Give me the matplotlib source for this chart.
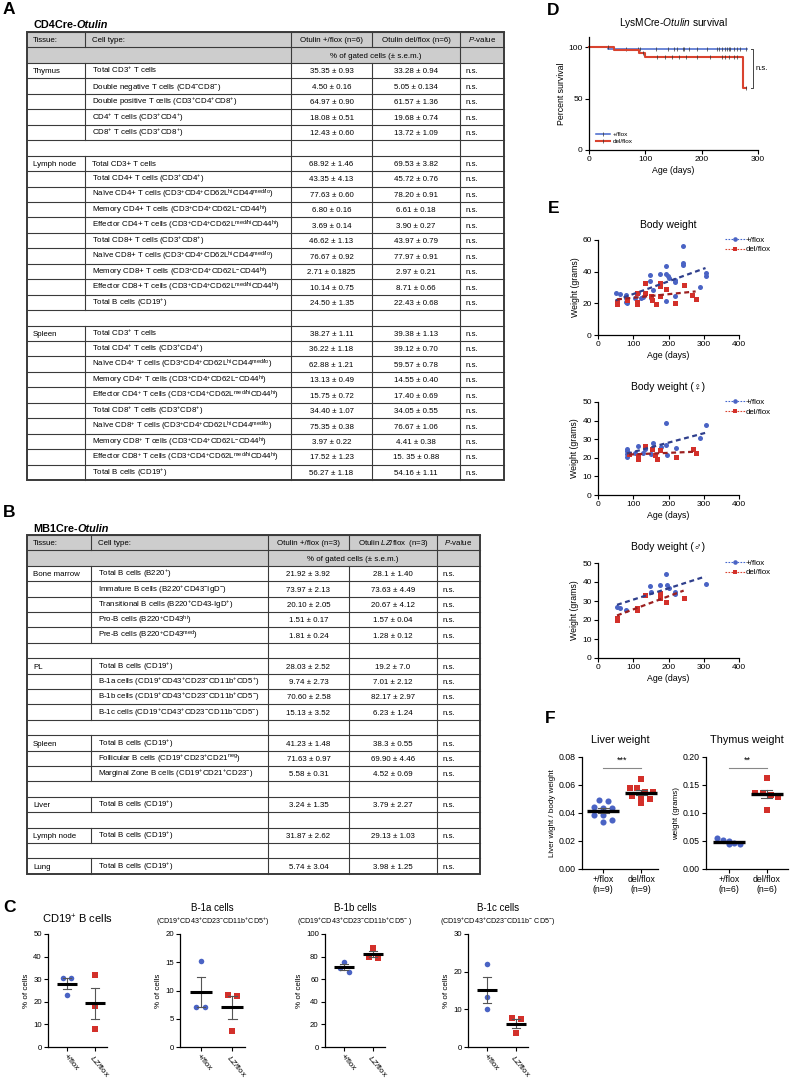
import re
import numpy as np
import matplotlib
matplotlib.use("Agg")
import matplotlib.pyplot as plt
from matplotlib.lines import Line2D
from matplotlib.patches import Rectangle

plt.rcParams['font.family'] = ['Liberation Sans', 'DejaVu Sans']
plt.rcParams['mathtext.fontset'] = 'custom'
plt.rcParams['mathtext.rm'] = 'Liberation Sans'
plt.rcParams['mathtext.it'] = 'Liberation Sans:italic'
plt.rcParams['mathtext.bf'] = 'Liberation Sans:bold'
plt.rcParams['axes.linewidth'] = 0.9

# ------------------------------------------------------------------ data A
A_header = ["Tissue:", "Cell type:", "Otulin +/flox (n=6)", "Otulin del/flox (n=6)", "$P$-value"]
A_subheader = "% of gated cells (± s.e.m.)"
A_tissues = ["Thymus", "Lymph node", "Spleen"]
A_thymus_cells = ["Total CD3{+} T cells",
                  "Double negative T cells (CD4{-}CD8{-})",
                  "Double positive T cells (CD3{+}CD4{+}CD8{+})",
                  "CD4{+} T cells (CD3{+}CD4{+})",
                  "CD8{+} T cells (CD3{+}CD8{+})"]
A_thymus_ctrl = ["35.35 ± 0.93", "4.50 ± 0.16", "64.97 ± 0.90", "18.08 ± 0.51", "12.43 ± 0.60"]
A_thymus_ko = ["33.28 ± 0.94", "5.05 ± 0.134", "61.57 ± 1.36", "19.68 ± 0.74", "13.72 ± 1.09"]
A_ln_cells = ["Total CD3+ T cells",
              "Total CD4+ T cells (CD3{+}CD4{+})",
              "Naïve CD4+ T cells (CD3{+}CD4{+}CD62L{hi}CD44{med/lo})",
              "Memory CD4+ T cells (CD3{+}CD4{+}CD62L{-}CD44{hi})",
              "Effector CD4+ T cells (CD3{+}CD4{+}CD62L{med/hi}CD44{hi})",
              "Total CD8+ T cells (CD3{+}CD8{+})",
              "Naïve CD8+ T cells (CD3{+}CD4{+}CD62L{hi}CD44{med/lo})",
              "Memory CD8+ T cells (CD3{+}CD4{+}CD62L{-}CD44{hi})",
              "Effector CD8+ T cells (CD3{+}CD4{+}CD62L{med/hi}CD44{hi})",
              "Total B cells (CD19{+})"]
A_ln_ctrl = ["68.92 ± 1.46", "43.35 ± 4.13", "77.63 ± 0.60", "6.80 ± 0.16", "3.69 ± 0.14",
             "46.62 ± 1.13", "76.67 ± 0.92", "2.71 ± 0.1825", "10.14 ± 0.75", "24.50 ± 1.35"]
A_ln_ko = ["69.53 ± 3.82", "45.72 ± 0.76", "78.20 ± 0.91", "6.61 ± 0.18", "3.90 ± 0.27",
           "43.97 ± 0.79", "77.97 ± 0.91", "2.97 ± 0.21", "8.71 ± 0.66", "22.43 ± 0.68"]
A_spleen_cells = ["Total CD3{+} T cells",
                  "Total CD4{+} T cells (CD3{+}CD4{+})",
                  "Naïve CD4{+} T cells (CD3{+}CD4{+}CD62L{hi}CD44{med/lo})",
                  "Memory CD4{+} T cells (CD3{+}CD4{+}CD62L{-}CD44{hi})",
                  "Effector CD4{+} T cells (CD3{+}CD4{+}CD62L{med/hi}CD44{hi})",
                  "Total CD8{+} T cells (CD3{+}CD8{+})",
                  "Naïve CD8{+} T cells (CD3{+}CD4{+}CD62L{hi}CD44{med/lo})",
                  "Memory CD8{+} T cells (CD3{+}CD4{+}CD62L{-}CD44{hi})",
                  "Effector CD8{+} T cells (CD3{+}CD4{+}CD62L{med/hi}CD44{hi})",
                  "Total B cells (CD19{+})"]
A_spleen_ctrl = ["38.27 ± 1.11", "36.22 ± 1.18", "62.88 ± 1.21", "13.13 ± 0.49", "15.75 ± 0.72",
                 "34.40 ± 1.07", "75.35 ± 0.38", "3.97 ± 0.22", "17.52 ± 1.23", "56.27 ± 1.18"]
A_spleen_ko = ["39.38 ± 1.13", "39.12 ± 0.70", "59.57 ± 0.78", "14.55 ± 0.40", "17.40 ± 0.69",
               "34.05 ± 0.55", "76.67 ± 1.06", "4.41 ± 0.38", "15. 35 ± 0.88", "54.16 ± 1.11"]

# ------------------------------------------------------------------ data B
B_header = ["Tissue:", "Cell type:", "Otulin +/flox (n=3)", "Otulin $LZ$/flox  (n=3)", "$P$-value"]
B_subheader = "% of gated cells (± s.e.m.)"
B_tissues = ["Bone marrow", "PL", "Spleen", "Liver", "Lymph node", "Lung"]
B_bm_cells = ["Total B cells (B220{+})", "Immature B cells (B220{+}CD43{-}IgD{-})",
              "Transitional B cells (B220{+}CD43-IgD{+})", "Pro-B cells (B220{+}CD43{hi})",
              "Pre-B cells (B220{+}CD43{med})"]
B_bm_ctrl = ["21.92 ± 3.92", "73.97 ± 2.13", "20.10 ± 2.05", "1.51 ± 0.17", "1.81 ± 0.24"]
B_bm_ko = ["28.1 ± 1.40", "73.63 ± 4.49", "20.67 ± 4.12", "1.57 ± 0.04", "1.28 ± 0.12"]
B_pl_cells = ["Total B cells (CD19{+})", "B-1a cells (CD19{+}CD43{+}CD23{-}CD11b{+}CD5{+})",
              "B-1b cells (CD19{+}CD43{+}CD23{-}CD11b{+}CD5{-})", "B-1c cells (CD19{+}CD43{+}CD23{-}CD11b{-}CD5{-})"]
B_pl_ctrl = ["28.03 ± 2.52", "9.74 ± 2.73", "70.60 ± 2.58", "15.13 ± 3.52"]
B_pl_ko = ["19.2 ± 7.0", "7.01 ± 2.12", "82.17 ± 2.97", "6.23 ± 1.24"]
B_sp_cells = ["Total B cells (CD19{+})", "Follicular B cells (CD19{+}CD23{+}CD21{neg})",
              "Marginal Zone B cells (CD19{+}CD21{+}CD23{-})"]
B_sp_ctrl = ["41.23 ± 1.48", "71.63 ± 0.97", "5.58 ± 0.31"]
B_sp_ko = ["38.3 ± 0.55", "69.90 ± 4.46", "4.52 ± 0.69"]
B_liver_cells = ["Total B cells (CD19{+})"]
B_liver_ctrl = ["3.24 ± 1.35"]
B_liver_ko = ["3.79 ± 2.27"]
B_ln_cells = ["Total B cells (CD19{+})"]
B_ln_ctrl = ["31.87 ± 2.62"]
B_ln_ko = ["29.13 ± 1.03"]
B_lung_cells = ["Total B cells (CD19{+})"]
B_lung_ctrl = ["5.74 ± 3.04"]
B_lung_ko = ["3.98 ± 1.25"]

# ------------------------------------------------------------------ data C
C_titles = ["CD19{+} B cells", "B-1a cells", "B-1b cells", "B-1c cells"]
C_subtitles = ["", "(CD19{+}CD43{+}CD23{-}CD11b{+}CD5{+})", "(CD19{+}CD43{+}CD23{-}CD11b{+}CD5{-} )",
               "(CD19{+}CD43{+}CD23{-}CD11b{-} CD5{-})"]
C_groups = ["+/flox", "$LZ$/flox"]
C_ctrl = [[30.5, 30.5, 23.0], [15.2, 7.0, 7.0], [75.3, 70.0, 66.5], [22.0, 13.3, 10.1]]
C_lz = [[32.0, 18.0, 8.0], [9.2, 9.0, 2.8], [88.0, 79.3, 79.2], [7.6, 7.4, 3.7]]
C_ymax = [50, 20, 100, 30]
C_ystep = [10, 5, 20, 10]

# ------------------------------------------------------------------ data D
D_title = "LysMCre-$Otulin$ survival"
D_groups = ["+/flox", "del/flox"]
D_ctrl_t = [0, 33, 280]
D_ctrl_s = [100, 98, 98]
D_ko_t = [0, 45, 88, 100, 273, 278]
D_ko_s = [100, 97.5, 94.5, 91, 60, 60]
D_ctrl_cens = [66, 87, 90, 119, 141, 151, 156, 166, 169, 178, 191, 209, 227, 230, 236,
               242, 245, 248, 251, 257, 263, 268, 279]
D_ko_cens = [34, 96, 120, 135, 147, 159, 173, 191, 215, 236, 242, 248, 257, 263, 278]

# ------------------------------------------------------------------ data E
E_titles = ["Body weight", "Body weight (♀)", "Body weight (♂)"]
E_groups = ["+/flox", "del/flox"]
E_all_ctrl_age = [50, 63, 80, 80, 80, 82, 104, 113, 123, 128, 132, 148, 148, 151, 156, 175, 175,
                  192, 192, 194, 199, 201, 218, 218, 218, 241, 241, 241, 288, 305, 305]
E_all_ctrl_w = [26.3, 25.9, 25.3, 23.2, 21.0, 20.0, 23.2, 26.3, 23.2, 24.2, 26.3, 37.9, 34.3, 23.2,
                28.4, 38.5, 24.6, 43.6, 38.5, 21.5, 37.3, 35.8, 34.7, 33.7, 24.6, 56.2, 45.3, 44.2,
                30.1, 38.9, 37.3]
E_all_ko_age = [54, 54, 82, 111, 111, 111, 132, 132, 151, 154, 165, 175, 175, 175, 194, 218,
                243, 268, 277]
E_all_ko_w = [21.0, 19.6, 22.1, 26.3, 21.0, 19.6, 32.6, 26.3, 24.6, 22.1, 19.6, 32.6, 30.9, 24.6,
              28.8, 20.4, 31.4, 25.3, 22.5]
E_f_ctrl_age = [82, 82, 82, 82, 104, 113, 128, 132, 156, 151, 180, 194, 194, 196, 220, 290, 305]
E_f_ctrl_w = [25.0, 23.8, 22.0, 20.2, 22.7, 26.3, 22.7, 24.5, 27.7, 22.0, 25.9, 38.8, 26.8, 21.4,
              25.5, 30.4, 37.5]
E_f_ko_age = [88, 113, 113, 132, 154, 161, 167, 175, 220, 270, 279]
E_f_ko_w = [22.0, 20.9, 19.6, 26.3, 24.5, 21.4, 19.6, 24.1, 20.5, 25.0, 22.7]
E_m_ctrl_age = [54, 63, 80, 148, 150, 175, 192, 195, 200, 218, 218, 305]
E_m_ctrl_w = [26.8, 26.3, 25.5, 38.0, 34.5, 38.5, 44.0, 38.3, 36.8, 35.0, 33.5, 39.0]
E_m_ko_age = [54, 54, 111, 111, 132, 175, 175, 175, 194, 243]
E_m_ko_w = [21.0, 19.8, 26.5, 25.5, 33.0, 34.0, 32.5, 31.5, 29.5, 31.8]

# ------------------------------------------------------------------ data F
F_titles = ["Liver weight", "Thymus weight"]
F_ylabels = ["Liver wight / body weight", "weight (grams)"]
F_liver_labels = ["+/flox\n(n=9)", "del/flox\n(n=9)"]
F_thymus_labels = ["+/flox\n(n=6)", "del/flox\n(n=6)"]
F_liver_ctrl = [0.0484, 0.0491, 0.0439, 0.0441, 0.0437, 0.0385, 0.0388, 0.0337, 0.0349]
F_liver_ko = [0.064, 0.058, 0.058, 0.055, 0.0553, 0.052, 0.051, 0.050, 0.047]
F_thymus_ctrl = [0.055, 0.052, 0.050, 0.047, 0.045, 0.044]
F_thymus_ko = [0.162, 0.136, 0.135, 0.133, 0.128, 0.106]
F_sig = ["***", "**"]

# ------------------------------------------------------------------ styles
BLUE = '#4a63c4'
RED = '#d3302a'
DBLUE = '#2f3f8c'
DRED = '#9c1f1f'
LBLUE = '#4466cc'
LRED = '#d9432f'

W, H = 792, 1078
fig = plt.figure(figsize=(W / 100, H / 100), dpi=100)
pax = fig.add_axes([0, 0, 1, 1])
pax.set_xlim(0, W)
pax.set_ylim(H, 0)
pax.axis('off')


def sup(s):
    return re.sub(r'\{([^}]*)\}', lambda m: r'$^{\mathrm{' + m.group(1) + '}}$', s)


def rect(xl, xr, yt, yb):
    return [xl / W, 1 - yb / H, (xr - xl) / W, (yb - yt) / H]


def title2(x, y, a, b, size, weight='bold'):
    t1 = pax.text(x, y, a, fontsize=size, fontweight=weight, va='baseline', ha='left')
    pax.annotate(b, xy=(1, 0), xycoords=t1, va='bottom', ha='left', fontsize=size,
                 fontweight=weight, fontstyle='italic')


def draw_table(xe, y0, rh, header, subheader, groups, fs=5.7):
    rows = [('head', header), ('sub', subheader)]
    for gi, (tissue, cells, c1, c2) in enumerate(groups):
        if gi > 0:
            rows.append(('blank', None))
        for k in range(len(cells)):
            rows.append(('data', (tissue if k == 0 else '', cells[k], c1[k], c2[k], 'n.s.')))
    x0, x1, x2, x3, x4, x5 = xe
    lc = '#3a3a3a'
    lw = 0.8
    n = len(rows)
    for i, (kind, content) in enumerate(rows):
        yt = y0 + i * rh
        yb = yt + rh
        ybase = yt + rh / 2 + 2.6
        if kind in ('head', 'sub'):
            pax.add_patch(Rectangle((x0, yt), x5 - x0, rh, fc='#cdcdcd', ec='none', zorder=0))
        pax.plot([x0, x5], [yt, yt], color=lc, lw=lw)
        if kind in ('head', 'data'):
            vx = [x1, x2, x3, x4]
        elif kind == 'sub':
            vx = [x2, x4]
        else:
            vx = [x2, x3, x4]
        for v in vx:
            pax.plot([v, v], [yt, yb], color=lc, lw=lw)
        if kind == 'head':
            pax.text(x0 + 6, ybase, content[0], fontsize=fs, va='baseline')
            pax.text(x1 + 7, ybase, content[1], fontsize=fs, va='baseline')
            pax.text((x2 + x3) / 2, ybase, content[2], fontsize=fs, va='baseline', ha='center')
            pax.text((x3 + x4) / 2, ybase, content[3], fontsize=fs, va='baseline', ha='center')
            pax.text((x4 + x5) / 2, ybase, content[4], fontsize=fs, va='baseline', ha='center')
        elif kind == 'sub':
            pax.text((x2 + x4) / 2, ybase, content, fontsize=fs, va='baseline', ha='center')
        elif kind == 'data':
            pax.text(x0 + 6, ybase, content[0], fontsize=fs, va='baseline')
            pax.text(x1 + 7, ybase, sup(content[1]), fontsize=fs, va='baseline')
            pax.text((x2 + x3) / 2, ybase, content[2], fontsize=fs, va='baseline', ha='center')
            pax.text((x3 + x4) / 2, ybase, content[3], fontsize=fs, va='baseline', ha='center')
            pax.text(x4 + 6, ybase, content[4], fontsize=fs, va='baseline')
    pax.add_patch(Rectangle((x0, y0), x5 - x0, n * rh, fc='none', ec=lc, lw=1.4, zorder=3))


# ------------------------------------------------------------------ tables
for lab, (x, y) in zip("ABCDEF", [(3, 2), (3, 505), (3, 900), (547, 3), (548, 201), (545, 711)]):
    pax.text(x, y, lab, fontsize=12.5, fontweight='bold', va='top', ha='left')

title2(33, 28, "CD4Cre-", "Otulin", 7.8)
draw_table([27, 85, 291, 372, 460, 504], 32, 15.45, A_header, A_subheader,
           [(A_tissues[0], A_thymus_cells, A_thymus_ctrl, A_thymus_ko),
            (A_tissues[1], A_ln_cells, A_ln_ctrl, A_ln_ko),
            (A_tissues[2], A_spleen_cells, A_spleen_ctrl, A_spleen_ko)])

title2(33, 532, "MB1Cre-", "Otulin", 7.8)
draw_table([27, 91, 268, 349, 437, 480], 535, 15.4, B_header, B_subheader,
           [(B_tissues[0], B_bm_cells, B_bm_ctrl, B_bm_ko),
            (B_tissues[1], B_pl_cells, B_pl_ctrl, B_pl_ko),
            (B_tissues[2], B_sp_cells, B_sp_ctrl, B_sp_ko),
            (B_tissues[3], B_liver_cells, B_liver_ctrl, B_liver_ko),
            (B_tissues[4], B_ln_cells, B_ln_ctrl, B_ln_ko),
            (B_tissues[5], B_lung_cells, B_lung_ctrl, B_lung_ko)])


# ------------------------------------------------------------------ helpers
def style_ax(ax, fs=6):
    ax.spines['top'].set_visible(False)
    ax.spines['right'].set_visible(False)
    ax.tick_params(length=3, width=0.8, labelsize=fs, pad=1.5)


def row_offsets(ax, vals, ms_px, spread=1.6, maxhw=0.4):
    pos = ax.get_position()
    wpx, hpx = pos.width * W, pos.height * H
    x0, x1 = ax.get_xlim()
    y0, y1 = ax.get_ylim()
    dy = ms_px * (y1 - y0) / hpx
    dx = ms_px * spread * (x1 - x0) / wpx
    order = np.argsort(-np.asarray(vals))
    offs = np.zeros(len(vals))
    rows = []
    for i in order:
        if rows and abs(vals[rows[-1][0]] - vals[i]) < dy:
            rows[-1].append(i)
        else:
            rows.append([i])
    for r in rows:
        o = (np.arange(len(r)) - (len(r) - 1) / 2) * dx
        if len(r) > 1 and np.abs(o).max() > maxhw:
            o = o * maxhw / np.abs(o).max()
        for k, i in enumerate(r):
            offs[i] = o[k]
    return offs


def dotplot(ax, groups_vals, ms, hw=0.33, mlw=2.2, spread=1.6, maxhw=0.4):
    cols = [BLUE, RED]
    mks = ['o', 's']
    for gi, vals in enumerate(groups_vals):
        vals = np.asarray(vals, dtype=float)
        offs = row_offsets(ax, vals, ms * 1.39, spread, maxhw)
        ax.plot(gi + offs, vals, ls='none', marker=mks[gi], color=cols[gi], ms=ms,
                mew=0, zorder=3, clip_on=False)
        m = vals.mean()
        se = vals.std(ddof=1) / np.sqrt(len(vals))
        ax.plot([gi, gi], [m - se, m + se], color='#555555', lw=0.8, zorder=4)
        for yy in (m - se, m + se):
            ax.plot([gi - 0.14, gi + 0.14], [yy, yy], color='#555555', lw=0.8, zorder=4)
        ax.plot([gi - hw, gi + hw], [m, m], color='k', lw=mlw, zorder=5, solid_capstyle='butt')


# ------------------------------------------------------------------ panel C
C_rects = [rect(48, 107, 934, 1047), rect(180, 245, 934, 1047),
           rect(325, 385, 934, 1047), rect(468, 528, 934, 1047)]
for i in range(4):
    ax = fig.add_axes(C_rects[i])
    style_ax(ax, 5.6)
    ax.set_xlim(-0.67, 1.41)
    ax.set_ylim(0, C_ymax[i])
    ax.set_yticks(np.arange(0, C_ymax[i] + 1, C_ystep[i]))
    dotplot(ax, [C_ctrl[i], C_lz[i]], ms=4.0, hw=0.35, spread=1.6)
    ax.set_xticks([0, 1])
    ax.set_xticklabels(C_groups, rotation=-50, ha='left', va='top', rotation_mode='anchor', fontsize=5.8)
    ax.set_ylabel("% of cells", fontsize=5.8, labelpad=2)
    if C_subtitles[i]:
        ax.text(0.5, 1.20, sup(C_titles[i]), transform=ax.transAxes, ha='center', va='baseline', fontsize=7.0)
        ax.text(0.5, 1.09, sup(C_subtitles[i]), transform=ax.transAxes, ha='center', va='baseline', fontsize=5.1)
    else:
        ax.text(0.5, 1.09, sup(C_titles[i]), transform=ax.transAxes, ha='center', va='baseline', fontsize=8.0)

# ------------------------------------------------------------------ panel D
axd = fig.add_axes(rect(589, 758, 37, 150))
style_ax(axd, 6)
axd.set_xlim(0, 300)
axd.set_ylim(0, 110)
axd.set_xticks([0, 100, 200, 300])
axd.set_yticks([0, 50, 100])
for t, s, cens, col, lw, lab in [(D_ctrl_t, D_ctrl_s, D_ctrl_cens, LBLUE, 1.1, D_groups[0]),
                                 (D_ko_t, D_ko_s, D_ko_cens, LRED, 1.5, D_groups[1])]:
    axd.step(t, s, where='post', color=col, lw=lw, clip_on=False)
    t = np.asarray(t)
    s = np.asarray(s)
    idx = np.searchsorted(t, cens, side='right') - 1
    axd.plot(cens, s[idx], ls='none', marker='|', ms=3, mew=0.5, color='#333333', clip_on=False)
axd.plot([288, 291, 291, 288], [98, 98, 60, 60], color='#444444', lw=0.7, clip_on=False)
axd.text(296, 79, "n.s.", fontsize=5.5, va='center', ha='left')
axd.set_title(D_title, fontsize=7.3, pad=8)
axd.set_xlabel("Age (days)", fontsize=6.3, labelpad=2)
axd.set_ylabel("Percent survival", fontsize=6.3, labelpad=2)
hd = [Line2D([], [], color=LBLUE, lw=1.1, marker='|', ms=3, mec='#333333', mew=0.5),
      Line2D([], [], color=LRED, lw=1.5, marker='|', ms=3, mec='#333333', mew=0.5)]
axd.legend(hd, D_groups, loc='lower left', bbox_to_anchor=(0.02, 0.02), frameon=False,
           fontsize=4.6, handlelength=2.2, handletextpad=0.4, labelspacing=0.15, borderpad=0.1)

# ------------------------------------------------------------------ panel E
E_rects = [rect(598, 739, 240, 335), rect(598, 739, 402, 495), rect(598, 739, 563, 658)]
E_ymax = [60, 50, 50]
E_ystep = [20, 10, 10]
E_sets = [(E_all_ctrl_age, E_all_ctrl_w, E_all_ko_age, E_all_ko_w),
          (E_f_ctrl_age, E_f_ctrl_w, E_f_ko_age, E_f_ko_w),
          (E_m_ctrl_age, E_m_ctrl_w, E_m_ko_age, E_m_ko_w)]
for i in range(3):
    ax = fig.add_axes(E_rects[i])
    style_ax(ax, 6)
    ax.set_xlim(0, 400)
    ax.set_ylim(0, E_ymax[i])
    ax.set_xticks([0, 100, 200, 300, 400])
    ax.set_yticks(np.arange(0, E_ymax[i] + 1, E_ystep[i]))
    ca, cw, ka, kw = E_sets[i]
    for a, w, col, dcol, mk in [(ca, cw, BLUE, DBLUE, 'o'), (ka, kw, RED, DRED, 's')]:
        a = np.asarray(a, float)
        w = np.asarray(w, float)
        ax.plot(a, w, ls='none', marker=mk, ms=3.6, mew=0, color=col, zorder=3)
        p = np.polyfit(a, w, 1)
        xx = np.array([a.min(), a.max()])
        ax.plot(xx, np.polyval(p, xx), color=dcol, lw=1.6, ls=(0, (2.2, 1.6)), zorder=4)
    ax.set_title(E_titles[i], fontsize=7.5, pad=9)
    ax.set_xlabel("Age (days)", fontsize=6.3, labelpad=2)
    ax.set_ylabel("Weight (grams)", fontsize=6.3, labelpad=2)
    he = [Line2D([], [], color=LBLUE, lw=0.8, ls=(0, (1.5, 1.2)), marker='o', ms=3.3, mew=0, mfc=BLUE),
          Line2D([], [], color=LRED, lw=0.8, ls=(0, (1.5, 1.2)), marker='s', ms=3.3, mew=0, mfc=RED)]
    ax.legend(he, E_groups, loc='upper left', bbox_to_anchor=(0.87, 1.08), frameon=False,
              fontsize=5.7, handlelength=2.6, handletextpad=0.1, labelspacing=0.25, borderpad=0)

# ------------------------------------------------------------------ panel F
F_rects = [rect(582, 658, 757, 869), rect(706, 788, 757, 869)]
F_data = [(F_liver_ctrl, F_liver_ko), (F_thymus_ctrl, F_thymus_ko)]
F_ymax = [0.08, 0.20]
F_ystep = [0.02, 0.05]
F_xlims = [(-0.56, 1.44), (-0.6, 1.56)]
F_labels = [F_liver_labels, F_thymus_labels]
F_fmt = ["%.2f", "%.2f"]
F_sigy = [0.072, 0.18]
for i in range(2):
    ax = fig.add_axes(F_rects[i])
    style_ax(ax, 6.3)
    ax.set_xlim(*F_xlims[i])
    ax.set_ylim(0, F_ymax[i])
    ticks = np.linspace(0, F_ymax[i], int(round(F_ymax[i] / F_ystep[i])) + 1)
    ax.set_yticks(ticks)
    ax.set_yticklabels([F_fmt[i] % t for t in ticks])
    dotplot(ax, F_data[i], ms=4.4, hw=0.42, mlw=2.4, spread=1.45, maxhw=0.3)
    ax.set_xticks([0, 1])
    ax.set_xticklabels(F_labels[i], fontsize=6.3, linespacing=1.15)
    ax.set_title(F_titles[i], fontsize=7.8, pad=10)
    ax.set_ylabel(F_ylabels[i], fontsize=5.8, labelpad=2)
    ax.plot([0, 1], [F_sigy[i], F_sigy[i]], color='#888888', lw=0.8, clip_on=False)
    ax.text(0.5, F_sigy[i] + 0.03 * F_ymax[i], F_sig[i], ha='center', va='bottom', fontsize=6.5)

fig.savefig("out.png", dpi=100)
